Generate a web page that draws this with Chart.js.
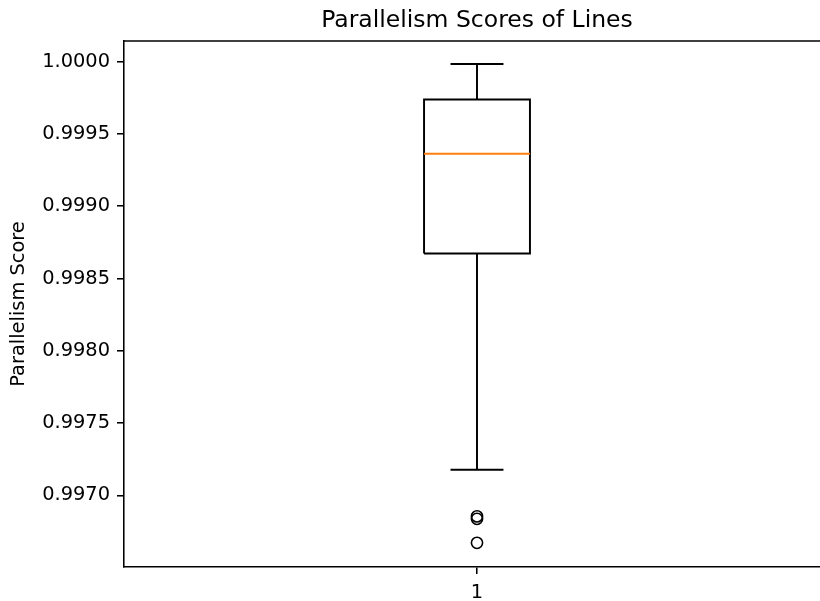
<!DOCTYPE html>
<html>
<head>
<meta charset="utf-8">
<script src="https://cdn.jsdelivr.net/npm/chart.js@4"></script>
<style>
  html, body { margin: 0; padding: 0; background: #fff; overflow: hidden; }
  canvas { display: block; }
</style>
</head>
<body>
<canvas id="c" width="820" height="601"></canvas>
<script>
// ---- data ----
const CATEGORIES   = ['1'];
const POSITIONS    = [1];
const WHISKER_LOW  = [0.997178];
const Q1           = [0.998673];
const MEDIAN       = [0.999362];
const Q3           = [0.999738];
const WHISKER_HIGH = [0.999983];
const OUTLIERS     = [0.996855, 0.996838, 0.996672];
const Y_TICKS      = [0.9970, 0.9975, 0.9980, 0.9985, 0.9990, 0.9995, 1.0000];
const X_TICKS      = [1];

// ---- styling / view ----
const BOX_HALF = 0.075;     // half box width in x units
const CAP_HALF = 0.0375;    // half cap width
const X_MIN = 0.5, X_MAX = 1.5;
const AXES_OVERHANG = 10;   // the axes run this many px past the right edge of the picture
const LW = 1.95;
const FONT = "'DejaVu Sans', sans-serif";

const datasets = [];
POSITIONS.forEach((p, i) => {
  datasets.push({
    label: 'box', order: 3,
    data: [
      {x: p - BOX_HALF, y: Q1[i]}, {x: p + BOX_HALF, y: Q1[i]},
      {x: p + BOX_HALF, y: Q3[i]}, {x: p - BOX_HALF, y: Q3[i]},
      {x: p - BOX_HALF, y: Q1[i]}
    ],
    showLine: true, borderColor: '#000', borderWidth: LW, pointRadius: 0,
    borderJoinStyle: 'miter', fill: false, tension: 0
  });
  datasets.push({
    label: 'whisker low', order: 3,
    data: [{x: p, y: Q1[i]}, {x: p, y: WHISKER_LOW[i]}],
    showLine: true, borderColor: '#000', borderWidth: LW, pointRadius: 0
  });
  datasets.push({
    label: 'whisker high', order: 3,
    data: [{x: p, y: Q3[i]}, {x: p, y: WHISKER_HIGH[i]}],
    showLine: true, borderColor: '#000', borderWidth: LW, pointRadius: 0
  });
  datasets.push({
    label: 'cap low', order: 3,
    data: [{x: p - CAP_HALF, y: WHISKER_LOW[i]}, {x: p + CAP_HALF, y: WHISKER_LOW[i]}],
    showLine: true, borderColor: '#000', borderWidth: LW, pointRadius: 0
  });
  datasets.push({
    label: 'cap high', order: 3,
    data: [{x: p - CAP_HALF, y: WHISKER_HIGH[i]}, {x: p + CAP_HALF, y: WHISKER_HIGH[i]}],
    showLine: true, borderColor: '#000', borderWidth: LW, pointRadius: 0
  });
  datasets.push({
    label: 'median', order: 1,
    data: [{x: p - BOX_HALF, y: MEDIAN[i]}, {x: p + BOX_HALF, y: MEDIAN[i]}],
    showLine: true, borderColor: '#ff7f0e', borderWidth: LW, pointRadius: 0
  });
  datasets.push({
    label: 'outliers', order: 0,
    data: OUTLIERS.map(v => ({x: p, y: v})),
    showLine: false, pointStyle: 'circle', pointRadius: 5.6,
    pointBorderWidth: 1.6, pointBorderColor: '#000', pointBackgroundColor: 'rgba(0,0,0,0)'
  });
});

// let the plot area run past the canvas edge (as in the reference),
// centre the title over the full axes, and draw the top spine
const framePlugin = {
  id: 'frame',
  afterLayout(chart) {
    const a = chart.chartArea, x = chart.scales.x;
    const R = chart.width + AXES_OVERHANG;
    a.right = R; a.width = R - a.left;
    if (x) {
      x.right = R; x.width = R - x.left;
      x.configure();
    }
    const tb = chart.titleBlock;
    if (tb) {
      tb.left = a.left;
      tb.right = a.right;
      tb.width = tb.right - tb.left;
    }
  },
  afterDraw(chart) {
    const {ctx, chartArea: a} = chart;
    ctx.save();
    // keep the right edge of the visible plot open (the axes continue off-picture)
    ctx.fillStyle = '#fff';
    ctx.fillRect(chart.width - 4, a.top + 1.5, 4, a.bottom - a.top - 3);
    ctx.strokeStyle = '#000';
    ctx.lineWidth = 1.56;
    ctx.beginPath();
    ctx.moveTo(a.left, a.top);
    ctx.lineTo(a.right, a.top);
    ctx.stroke();
    ctx.restore();
  }
};

new Chart(document.getElementById('c'), {
  type: 'scatter',
  data: { datasets },
  options: {
    responsive: false,
    animation: false,
    devicePixelRatio: 1,
    events: [],
    layout: { padding: 0 },
    plugins: {
      legend: { display: false },
      tooltip: { enabled: false },
      title: {
        display: true,
        fullSize: false,
        text: 'Parallelism Scores of Lines',
        color: '#000',
        font: { family: FONT, size: 23.5, weight: 'normal', lineHeight: 1.2 },
        padding: { top: 7, bottom: 5.8 }
      }
    },
    scales: {
      x: {
        type: 'linear',
        min: X_MIN, max: X_MAX,
        afterBuildTicks: s => { s.ticks = X_TICKS.map(v => ({value: v})); },
        afterFit: s => { s.height = 34; s.paddingLeft = 0; s.paddingRight = 0; },
        ticks: {
          color: '#000', padding: 7,
          font: { family: FONT, size: 19.4 },
          callback: (v) => CATEGORIES[POSITIONS.indexOf(v)] ?? ''
        },
        grid: { drawOnChartArea: false, drawTicks: true, tickLength: 7, color: '#000', lineWidth: 1.56 },
        border: { display: true, color: '#000', width: 1.56 }
      },
      y: {
        type: 'linear',
        min: 0.996505, max: 1.000142,
        afterBuildTicks: s => { s.ticks = Y_TICKS.map(v => ({value: v})); },
        afterFit: s => { s.width = 124; s.paddingTop = 0; s.paddingBottom = 0; },
        ticks: {
          color: '#000', padding: 7,
          font: { family: FONT, size: 19.4 },
          callback: (v) => Number(v).toFixed(4)
        },
        title: {
          display: true, text: 'Parallelism Score', color: '#000',
          font: { family: FONT, size: 19.4, weight: 'normal', lineHeight: 1.2 },
          padding: { top: 7, bottom: 0 }
        },
        grid: { drawOnChartArea: false, drawTicks: true, tickLength: 7, color: '#000', lineWidth: 1.56 },
        border: { display: true, color: '#000', width: 1.56 }
      }
    }
  },
  plugins: [framePlugin]
});
</script>
</body>
</html>
